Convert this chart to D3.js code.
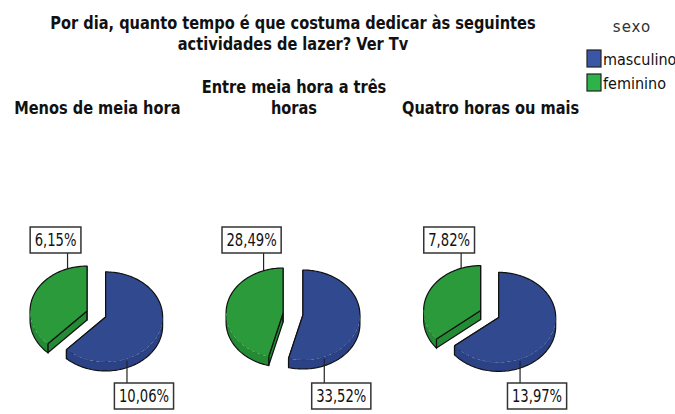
<!DOCTYPE html>
<html>
<head>
<meta charset="utf-8">
<script src="https://cdn.jsdelivr.net/npm/d3@7"></script>
<style>body{margin:0;background:#fff;}</style>
</head>
<body>
<script>
// chart data
const categories = ["Menos de meia hora", "Entre meia hora a três\nhoras", "Quatro horas ou mais"];
const series = ["masculino", "feminino"];
const masculino = [10.06, 33.52, 13.97];
const feminino = [6.15, 28.49, 7.82];
const titleLines = ["Por dia, quanto tempo é que costuma dedicar às seguintes", "actividades de lazer? Ver Tv"];
const legendTitle = "sexo";

let width = 675,
	height = 414;

const narrow = "'Liberation Sans Narrow', 'DejaVu Sans Condensed', 'Arial Narrow', sans-serif";

let topColor = d3.scaleOrdinal().domain(series).range(["#31498e", "#2a9a3b"]);
let sideColor = d3.scaleOrdinal().domain(series).range(["#2b4286", "#248b35"]);
let dashColor = d3.scaleOrdinal().domain(series).range(["#1b2a5c", "#15601f"]);
let keyColor = d3.scaleOrdinal().domain(series).range(["#3c56a7", "#2eb34b"]);
let labelAngle = {masculino: 158 * Math.PI / 180, feminino: 340 * Math.PI / 180};

let svg = d3.select("body")
	.append("svg")
	.attr("width", width)
	.attr("height", height);

// squeeze text horizontally to look condensed like the original
function squeeze(sel, k) {
	sel.each(function() {
		let w = this.getComputedTextLength();
		d3.select(this).attr("textLength", w * k).attr("lengthAdjust", "spacingAndGlyphs");
	});
}

// title
svg.append("g")
	.selectAll("text")
	.data(titleLines)
	.enter().append("text")
	.attr("x", 293)
	.attr("y", (d, i) => 29 + i * 21)
	.attr("text-anchor", "middle")
	.attr("font-family", narrow)
	.attr("font-weight", "bold")
	.attr("font-size", 18)
	.attr("fill", "#111")
	.text(d => d)
	.call(squeeze, 0.9);

// legend
let legend = svg.append("g");
legend.append("text")
	.attr("x", 632).attr("y", 32)
	.attr("text-anchor", "middle")
	.attr("font-family", "'DejaVu Sans', sans-serif")
	.attr("font-size", 15)
	.attr("letter-spacing", 1)
	.attr("fill", "#333")
	.text(legendTitle);

let key = legend.selectAll(".key")
	.data(series)
	.enter().append("g")
	.attr("class", "key")
	.attr("transform", (d, i) => "translate(587," + (50 + i * 24) + ")");
key.append("rect")
	.attr("width", 14).attr("height", 17)
	.attr("fill", d => keyColor(d))
	.attr("stroke", "#222").attr("stroke-width", 1.2);
key.append("text")
	.attr("x", 16).attr("y", 15)
	.attr("font-family", narrow)
	.attr("font-size", 16)
	.attr("fill", "#111")
	.text(d => d);

// one pie per category
let x = d3.scaleBand().domain(categories).range([-2, 588]);

const rx = 57, ry = 45, depth = 9, explode = 10, pieY = 314;
let pie = d3.pie().sort(null).value(d => d.value);
let fmt = v => d3.format(".2f")(v).replace(".", ",") + "%";
let line = d3.line();

function pt(cx, cy, a, dz) {
	return [cx + rx * Math.sin(a), cy - ry * Math.cos(a) + dz];
}
function arcPts(cx, cy, a0, a1, dz) {
	let n = Math.max(2, Math.ceil(Math.abs(a1 - a0) / 0.03));
	return d3.range(n + 1).map(k => pt(cx, cy, a0 + (a1 - a0) * k / n, dz));
}

categories.forEach(function(cat, i) {
	let cx0 = x(cat) + x.bandwidth() / 2;

	// header (may be two lines)
	let lines = cat.split("\n");
	svg.append("g").selectAll("text")
		.data(lines)
		.enter().append("text")
		.attr("x", cx0 + 1)
		.attr("y", (d, k) => 114 - (lines.length - 1 - k) * 21)
		.attr("text-anchor", "middle")
		.attr("font-family", narrow)
		.attr("font-weight", "bold")
		.attr("font-size", 18)
		.attr("fill", "#111")
		.text(d => d)
		.call(squeeze, 0.9);

	let slices = pie(series.map((s, j) => ({key: s, value: j ? feminino[i] : masculino[i]})));
	let g = svg.append("g");

	slices.slice().reverse().forEach(function(sl) {
		let s = sl.data.key;
		let mid = (sl.startAngle + sl.endAngle) / 2;
		let cx = cx0 + explode * Math.sin(mid),
			cy = pieY - explode * Math.cos(mid) * ry / rx;
		let a0 = sl.startAngle, a1 = sl.endAngle;

		// cut faces
		[a0, a1].forEach(function(a) {
			g.append("path")
				.attr("d", line([[cx, cy], pt(cx, cy, a, 0), pt(cx, cy, a, depth), [cx, cy + depth]]) + "Z")
				.attr("fill", sideColor(s))
				.attr("stroke", "#111").attr("stroke-width", 1.2)
				.attr("stroke-linejoin", "round");
		});

		// front wall
		let lo = Math.max(a0, Math.PI / 2), hi = Math.min(a1, 3 * Math.PI / 2);
		if (hi > lo) {
			g.append("path")
				.attr("d", line(arcPts(cx, cy, lo, hi, 0).concat(arcPts(cx, cy, hi, lo, depth))) + "Z")
				.attr("fill", sideColor(s));
			g.append("path")
				.attr("d", line([pt(cx, cy, lo, 0)].concat(arcPts(cx, cy, lo, hi, depth), [pt(cx, cy, hi, 0)])))
				.attr("fill", "none")
				.attr("stroke", "#111").attr("stroke-width", 1.2);
		}

		// top surface
		g.append("path")
			.attr("d", line([[cx, cy]].concat(arcPts(cx, cy, a0, a1, 0))) + "Z")
			.attr("fill", topColor(s));

		// outline: radial edges + back arc solid, front arc dashed
		g.append("path")
			.attr("d", line([pt(cx, cy, a0, 0), [cx, cy], pt(cx, cy, a1, 0)]))
			.attr("fill", "none").attr("stroke", "#111").attr("stroke-width", 1.2)
			.attr("stroke-linejoin", "round");
		[[a0, Math.min(a1, Math.PI / 2)], [Math.max(a0, 3 * Math.PI / 2), a1]].forEach(function(r) {
			if (r[1] > r[0]) {
				g.append("path")
					.attr("d", line(arcPts(cx, cy, r[0], r[1], 0)))
					.attr("fill", "none").attr("stroke", "#111").attr("stroke-width", 1.2);
			}
		});
		if (hi > lo) {
			g.append("path")
				.attr("d", line(arcPts(cx, cy, lo, hi, 0)))
				.attr("fill", "none").attr("stroke", dashColor(s))
				.attr("stroke-width", 0.8).attr("stroke-dasharray", "3,3")
				.attr("opacity", 0.7);
		}

		// value label with leader
		let la = labelAngle[s];
		let p = pt(cx, cy, la, 0);
		let up = s === "feminino";
		let boxH = 26;
		let boxEdge = up ? 253 : 383;
		let boxCx = up ? p[0] - 12 : p[0] + 17;

		g.append("line")
			.attr("x1", p[0]).attr("y1", up ? p[1] : p[1] + 2)
			.attr("x2", p[0]).attr("y2", boxEdge)
			.attr("stroke", "#222").attr("stroke-width", 1.2);

		let lab = g.append("g");
		let rect = lab.append("rect");
		let txt = lab.append("text")
			.attr("x", boxCx)
			.attr("y", (up ? boxEdge - boxH : boxEdge) + 19)
			.attr("text-anchor", "middle")
			.attr("font-family", narrow)
			.attr("font-size", 17)
			.attr("fill", "#111")
			.text(fmt(sl.data.value))
			.call(squeeze, 0.86);
		let w = +txt.attr("textLength") + 9;
		rect.attr("x", boxCx - w / 2)
			.attr("y", up ? boxEdge - boxH : boxEdge)
			.attr("width", w).attr("height", boxH)
			.attr("fill", "#fff")
			.attr("stroke", "#333").attr("stroke-width", 1.5);
	});
});
</script>
</body>
</html>
